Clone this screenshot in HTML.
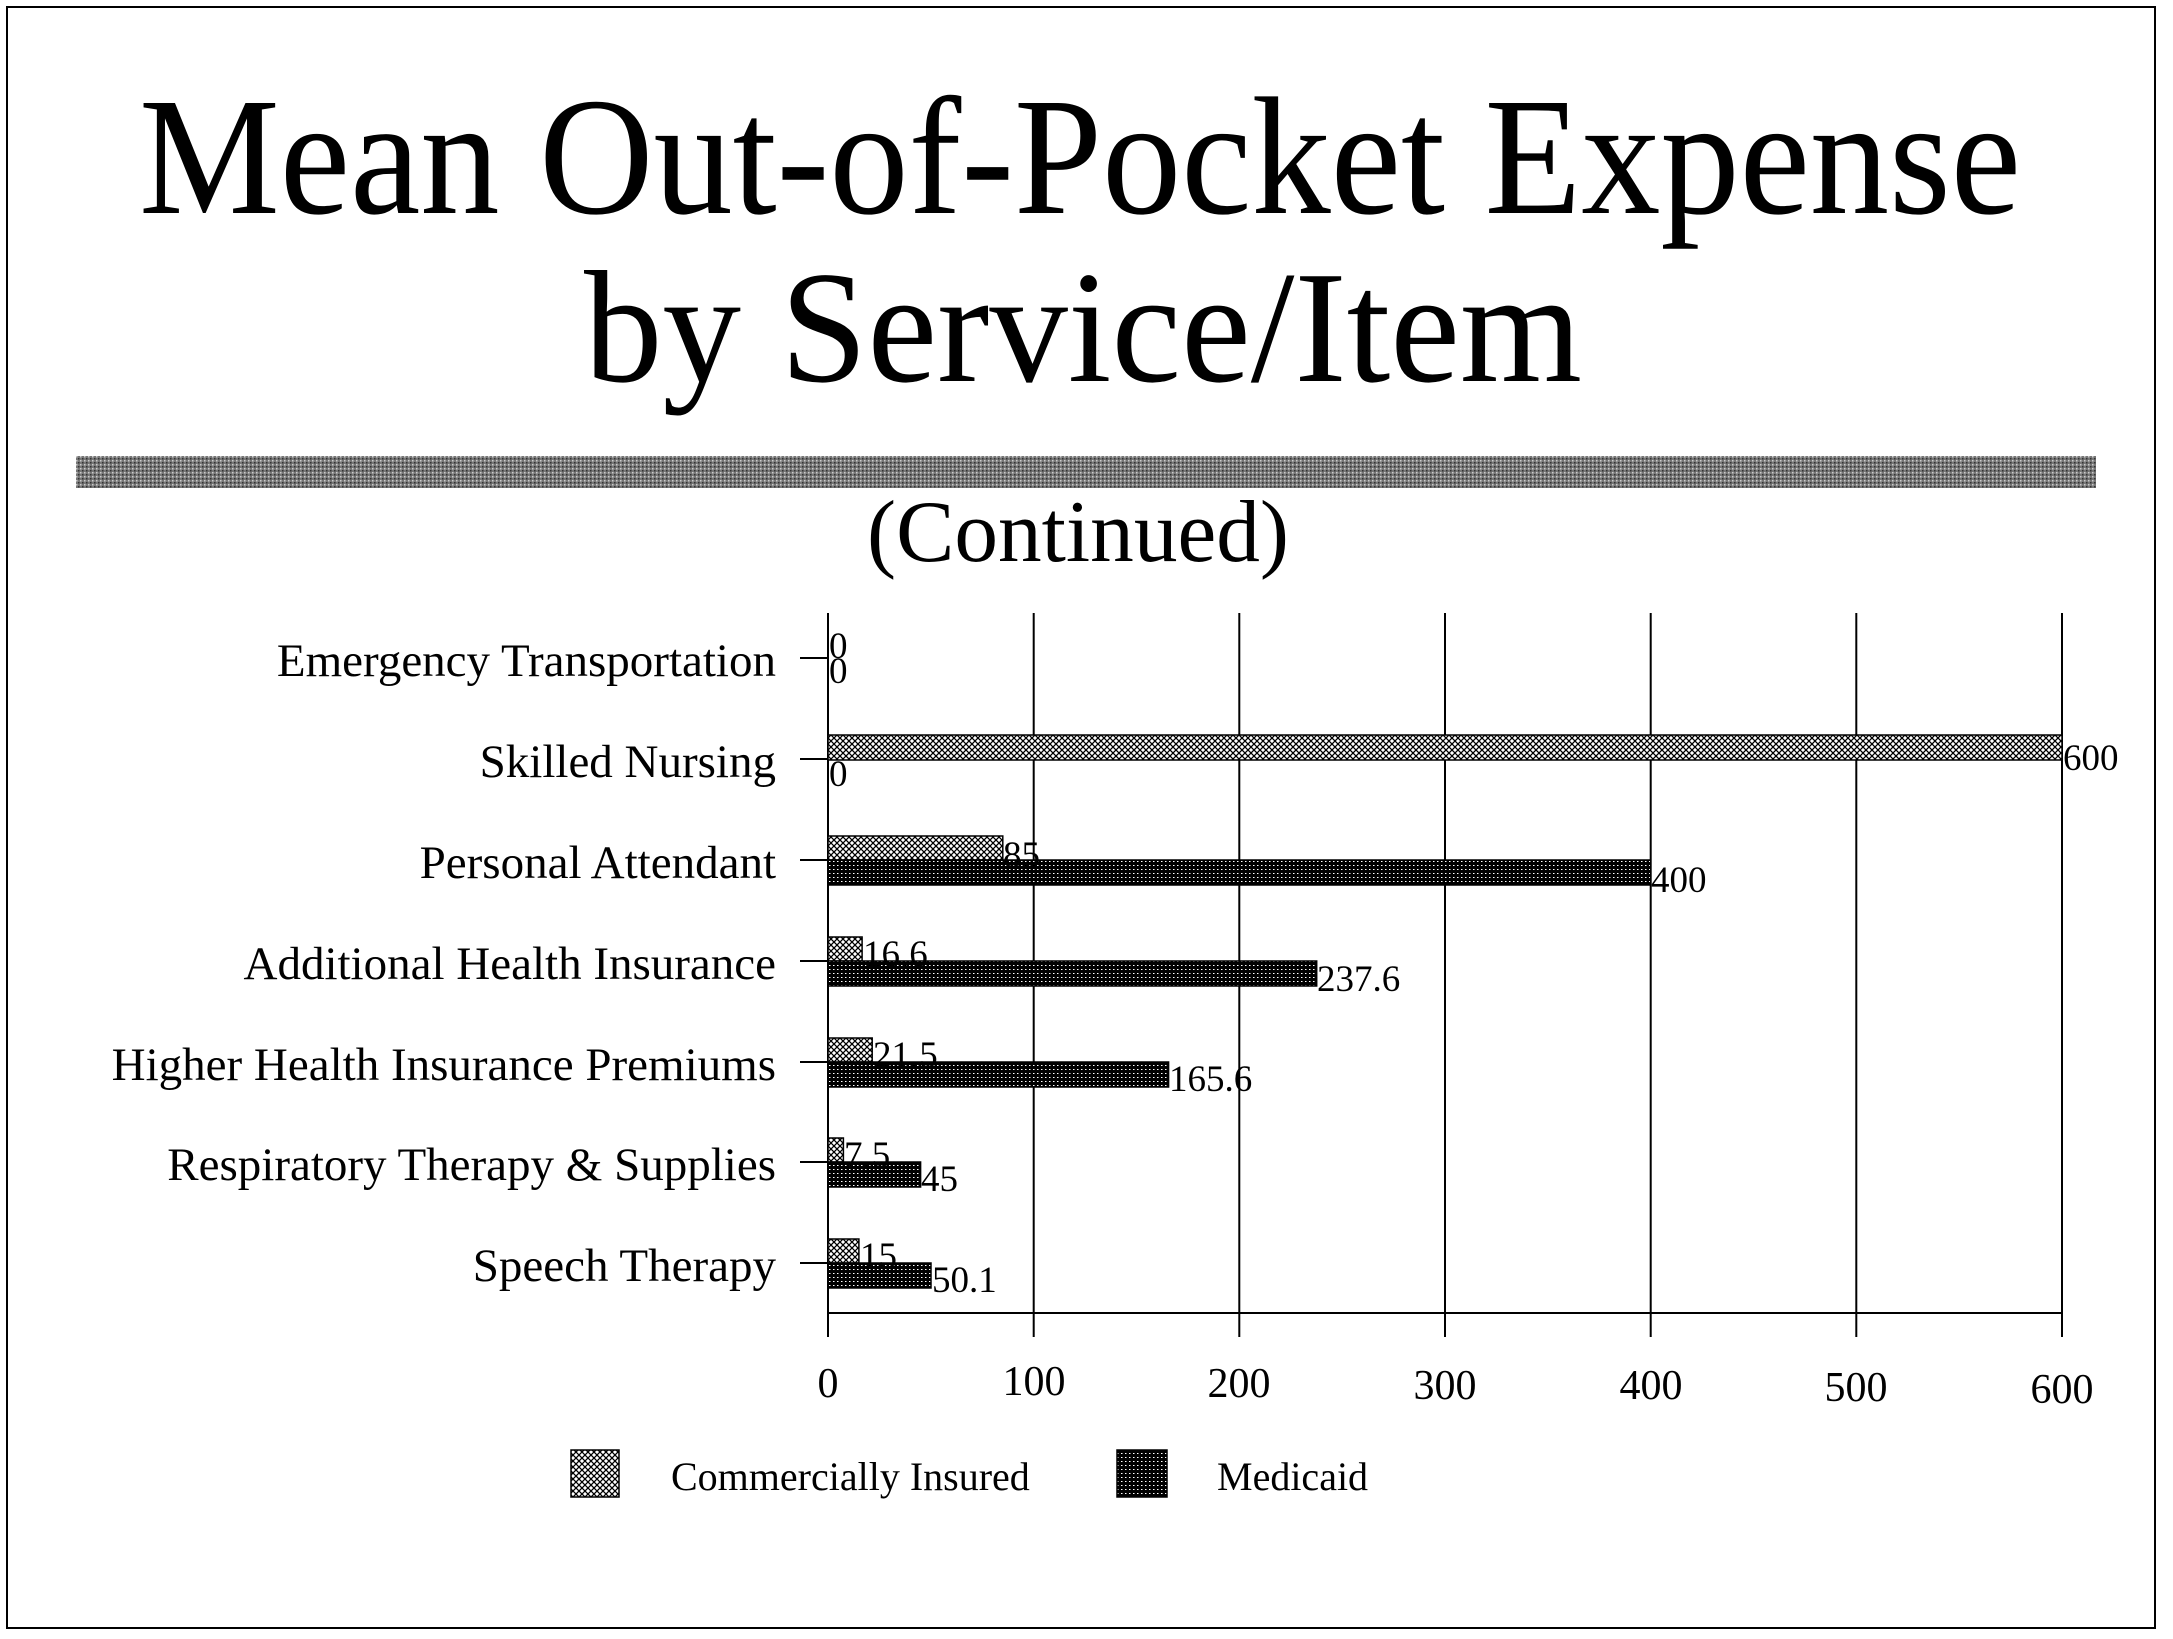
<!DOCTYPE html>
<html><head><style>
body{margin:0;background:#fff;}
svg{display:block;}
text{font-family:"Liberation Serif",serif;fill:#000;}
</style></head><body>
<svg width="2173" height="1639" viewBox="0 0 2173 1639" xmlns="http://www.w3.org/2000/svg">
<defs>
<pattern id="lt" width="6" height="6" patternUnits="userSpaceOnUse">
<rect width="6" height="6" fill="#fff"/>
<path d="M0 0L6 6M6 0L0 6" stroke="#000" stroke-width="1.3"/>
</pattern>
<pattern id="dk" width="4" height="4" patternUnits="userSpaceOnUse">
<rect width="4" height="4" fill="#000"/>
<rect x="1" y="1" width="1.5" height="1" fill="#fff"/>
</pattern>
<pattern id="gb" width="4" height="4" patternUnits="userSpaceOnUse">
<rect width="4" height="4" fill="#777"/>
<rect x="0" y="0" width="1.5" height="1.5" fill="#ccc"/>
<rect x="2" y="2" width="1.5" height="1.5" fill="#333"/>
</pattern>
</defs>
<rect x="7" y="7" width="2148" height="1621" fill="none" stroke="#000" stroke-width="2"/>
<text x="1080" y="213" font-size="168" text-anchor="middle" textLength="1882" lengthAdjust="spacingAndGlyphs">Mean Out-of-Pocket Expense</text>
<text x="1083" y="381" font-size="160" text-anchor="middle" textLength="998" lengthAdjust="spacingAndGlyphs">by Service/Item</text>
<rect x="76" y="456" width="2020" height="32" fill="url(#gb)"/>
<text x="1078" y="561" font-size="88" text-anchor="middle" textLength="422" lengthAdjust="spacingAndGlyphs">(Continued)</text>
<g stroke="#000" stroke-width="2">
<line x1="828" y1="613" x2="828" y2="1337"/>
<line x1="1033.7" y1="613" x2="1033.7" y2="1337"/>
<line x1="1239.3" y1="613" x2="1239.3" y2="1337"/>
<line x1="1445" y1="613" x2="1445" y2="1337"/>
<line x1="1650.7" y1="613" x2="1650.7" y2="1337"/>
<line x1="1856.3" y1="613" x2="1856.3" y2="1337"/>
<line x1="2062" y1="613" x2="2062" y2="1337"/>
<line x1="828" y1="1313" x2="2062" y2="1313"/>
<line x1="800" y1="658" x2="828" y2="658"/>
<line x1="800" y1="759" x2="828" y2="759"/>
<line x1="800" y1="860" x2="828" y2="860"/>
<line x1="800" y1="961" x2="828" y2="961"/>
<line x1="800" y1="1062" x2="828" y2="1062"/>
<line x1="800" y1="1162" x2="828" y2="1162"/>
<line x1="800" y1="1263" x2="828" y2="1263"/>
</g>
<g font-size="47" text-anchor="end">
<text x="776" y="676">Emergency Transportation</text>
<text x="776" y="777">Skilled Nursing</text>
<text x="776" y="878">Personal Attendant</text>
<text x="776" y="979">Additional Health Insurance</text>
<text x="776" y="1080">Higher Health Insurance Premiums</text>
<text x="776" y="1180">Respiratory Therapy &amp; Supplies</text>
<text x="776" y="1281">Speech Therapy</text>
</g>
<g stroke="#000" stroke-width="1.5">
<rect x="828" y="735" width="1234" height="25" fill="url(#lt)"/>
<rect x="828" y="836" width="174.8" height="24" fill="url(#lt)"/>
<rect x="828" y="860" width="822.7" height="25" fill="url(#dk)"/>
<rect x="828" y="937" width="34.1" height="24" fill="url(#lt)"/>
<rect x="828" y="961" width="488.7" height="25" fill="url(#dk)"/>
<rect x="828" y="1038" width="44.2" height="24" fill="url(#lt)"/>
<rect x="828" y="1062" width="340.6" height="25" fill="url(#dk)"/>
<rect x="828" y="1138" width="15.4" height="24" fill="url(#lt)"/>
<rect x="828" y="1162" width="92.6" height="25" fill="url(#dk)"/>
<rect x="828" y="1239" width="30.9" height="24" fill="url(#lt)"/>
<rect x="828" y="1263" width="103" height="25" fill="url(#dk)"/>
</g>
<g font-size="37">
<text x="829" y="658">0</text>
<text x="829" y="683">0</text>
<text x="2063" y="770">600</text>
<text x="829" y="786">0</text>
<text x="1003" y="867">85</text>
<text x="1651" y="892">400</text>
<text x="863" y="966">16.6</text>
<text x="1317" y="991">237.6</text>
<text x="873" y="1067">21.5</text>
<text x="1169" y="1091">165.6</text>
<text x="844" y="1167">7.5</text>
<text x="921" y="1191">45</text>
<text x="860" y="1268">15</text>
<text x="932" y="1292">50.1</text>
</g>
<g font-size="42" text-anchor="middle">
<text x="828" y="1397">0</text>
<text x="1034" y="1395">100</text>
<text x="1239" y="1397">200</text>
<text x="1445" y="1399">300</text>
<text x="1651" y="1399">400</text>
<text x="1856" y="1401">500</text>
<text x="2062" y="1403">600</text>
</g>
<rect x="571" y="1450" width="48" height="47" fill="url(#lt)" stroke="#000" stroke-width="1.5"/>
<text x="671" y="1490" font-size="40">Commercially Insured</text>
<rect x="1117" y="1450" width="50" height="47" fill="url(#dk)" stroke="#000" stroke-width="1.5"/>
<text x="1217" y="1490" font-size="40">Medicaid</text>
</svg>
</body></html>
